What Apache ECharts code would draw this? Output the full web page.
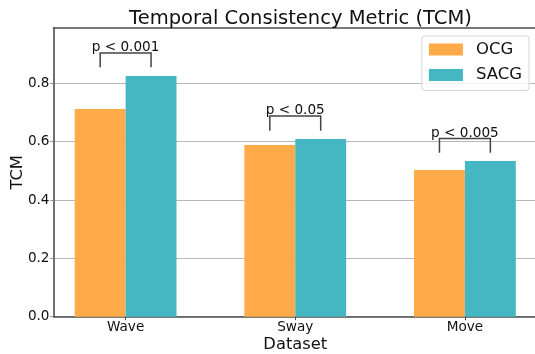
<!DOCTYPE html>
<html>
<head>
<meta charset="utf-8">
<script src="https://cdn.jsdelivr.net/npm/echarts@6/dist/echarts.min.js"></script>
<style>html,body{margin:0;padding:0;background:#fff}#c{width:535px;height:354px}</style>
</head>
<body>
<div id="c"></div>
<script>
const categories = ['Wave', 'Sway', 'Move'];
const ocg = [0.712, 0.589, 0.503];
const sacg = [0.825, 0.609, 0.534];
const pLabels = ['p < 0.001', 'p < 0.05', 'p < 0.005'];
const bracketLow = [0.855, 0.638, 0.562];
const bracketHigh = [0.904, 0.688, 0.611];
const yTicks = [0, 0.2, 0.4, 0.6, 0.8];
const xTicks = [0, 1, 2];

const FONT = 'DejaVu Sans';
const SPINE = '#4d4d4d';
const HALF = 0.15;

const chart = echarts.init(document.getElementById('c'), null, {renderer: 'canvas'});
chart.setOption({
  animation: false,
  backgroundColor: '#fff',
  textStyle: {fontFamily: FONT},
  title: {
    text: 'Temporal Consistency Metric (TCM)',
    left: 295.5, top: 4, textAlign: 'center',
    textStyle: {fontFamily: FONT, fontSize: 19.5, fontWeight: 'normal', color: '#111'}
  },
  legend: {
    data: ['OCG', 'SACG'],
    orient: 'vertical', right: 6, top: 36,
    icon: 'rect', itemWidth: 34, itemHeight: 12, itemGap: 8.5,
    padding: [5, 7, 7, 7],
    backgroundColor: 'rgba(255,255,255,0.85)',
    borderColor: '#d4d4d4', borderWidth: 1, borderRadius: 3,
    textStyle: {fontFamily: FONT, fontSize: 16.5, color: '#111', padding: [0, 0, 0, 8]}
  },
  grid: {left: 53.5, right: -2, top: 28, bottom: 37.3, containLabel: false, outerBoundsMode: 'none'},
  xAxis: [{
    type: 'value', min: -0.425, max: 2.425,
    name: 'Dataset', nameLocation: 'middle', nameGap: 20, nameMoveOverlap: false,
    nameTextStyle: {fontFamily: FONT, fontSize: 16.3, color: '#111'},
    axisLine: {show: true, onZero: false, lineStyle: {color: SPINE, width: 1.6}},
    axisTick: {show: true, customValues: xTicks, length: 3.5, lineStyle: {color: SPINE}},
    axisLabel: {customValues: xTicks, formatter: v => categories[Math.round(v)],
      fontFamily: FONT, fontSize: 13.6, color: '#111', margin: 4},
    splitLine: {show: false}
  }, {
    type: 'value', min: -0.425, max: 2.425, position: 'top',
    axisLine: {show: true, onZero: false, lineStyle: {color: SPINE, width: 1.6}},
    axisTick: {show: false}, axisLabel: {show: false}, splitLine: {show: false}
  }],
  yAxis: {
    type: 'value', min: 0, max: 0.99, interval: 0.2,
    name: 'TCM', nameLocation: 'middle', nameGap: 28, nameRotate: 90, nameMoveOverlap: false,
    nameTextStyle: {fontFamily: FONT, fontSize: 16.3, color: '#111'},
    axisLine: {show: true, onZero: false, lineStyle: {color: SPINE, width: 1.6}},
    axisTick: {show: true, customValues: yTicks, length: 3.5, lineStyle: {color: '#999'}},
    axisLabel: {customValues: yTicks, formatter: v => v.toFixed(1),
      fontFamily: FONT, fontSize: 13.6, color: '#111', margin: 4},
    splitLine: {show: true, lineStyle: {color: '#b8b8b8', width: 1}}
  },
  series: [{
    name: 'OCG', type: 'bar', barWidth: 50.9, barGap: '0%',
    itemStyle: {color: '#FFAB4A'},
    data: ocg.map((v, i) => [xTicks[i], v])
  }, {
    name: 'SACG', type: 'bar', barWidth: 50.9, barGap: '0%',
    itemStyle: {color: '#45B7C2'},
    data: sacg.map((v, i) => [xTicks[i], v])
  }, {
    type: 'custom', z: 10, clip: false, silent: true,
    renderItem: function (params, api) {
      const i = api.value(0), lo = api.value(1), hi = api.value(2);
      const a = api.coord([i - HALF, hi]);
      const b = api.coord([i + HALF, lo]);
      return {
        type: 'group',
        children: [{
          type: 'polyline',
          shape: {points: [[a[0], b[1]], [a[0], a[1]], [b[0], a[1]], [b[0], b[1]]]},
          style: {stroke: '#444', lineWidth: 1.5, fill: null}
        }, {
          type: 'text',
          x: (a[0] + b[0]) / 2, y: a[1] + 1.5,
          style: {text: pLabels[params.dataIndex], align: 'center', verticalAlign: 'bottom',
            fontFamily: FONT, fontSize: 13.6, fill: '#111'}
        }]
      };
    },
    data: xTicks.map((x, i) => [x, bracketLow[i], bracketHigh[i]])
  }]
});
</script>
</body>
</html>
